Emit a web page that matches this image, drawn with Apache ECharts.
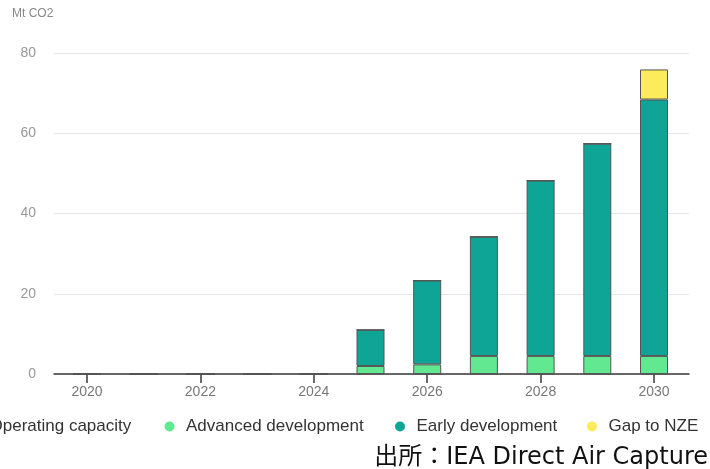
<!DOCTYPE html>
<html>
<head>
<meta charset="utf-8">
<script src="https://cdn.jsdelivr.net/npm/echarts@6/dist/echarts.min.js"></script>
<style>
	html, body { margin: 0; padding: 0; background: #fff; }
	#chart { width: 710px; height: 469px; }
</style>
</head>
<body>
<div id="chart"></div>
<script>
// 年份
const years = ['2020', '2021', '2022', '2023', '2024', '2025', '2026', '2027', '2028', '2029', '2030'];
const yTicks = [0, 20, 40, 60, 80];
// 各系列数据 (Mt CO2)
const operating = [0, 0, 0, 0, 0, 0, 0, 0, 0, 0, 0];
const advanced = [0, 0, 0, 0, 0, 2.0, 2.4, 4.5, 4.5, 4.5, 4.5];
const early = [0, 0, 0, 0, 0, 9.0, 20.9, 29.7, 43.7, 52.9, 63.9];
const gapNze = [0, 0, 0, 0, 0, 0, 0, 0, 0, 0, 7.5];

const seriesNames = ['Operating capacity', 'Advanced development', 'Early development', 'Gap to NZE'];
const seriesColors = ['#1c6e5c', '#62e890', '#0ea596', '#fcec5c'];
const legendLeft = [-32, 164.5, 395, 587]; // 每个图例单独定位

const chart = echarts.init(document.getElementById('chart'));

const option = {
	backgroundColor: '#fff',
	textStyle: { fontFamily: 'Liberation Sans, Arial, sans-serif' },
	animation: false,
	// grid0: 网格线和坐标轴线(较宽); grid1: 柱子(类目带宽)
	grid: [
		{ left: 54, right: 21, top: 53, bottom: 95 },
		{ left: 58.65, right: 27.65, top: 53, bottom: 95 }
	],
	legend: seriesNames.map(function(name, i) {
		return {
			data: [name],
			left: legendLeft[i],
			top: 418,
			padding: 0,
			icon: 'circle',
			itemWidth: 23,
			itemHeight: 10,
			itemStyle: { borderWidth: 0 },
			textStyle: { fontSize: 17, color: '#333' }
		};
	}),
	xAxis: [
		{
			gridIndex: 0,
			type: 'value',
			min: 0,
			max: 1,
			splitLine: { show: false },
			axisTick: { show: false },
			axisLabel: { show: false },
			axisLine: { show: true, lineStyle: { color: '#3a3a3a', width: 1.5 } }
		},
		{
			gridIndex: 1,
			type: 'category',
			data: years,
			axisLine: { show: false },
			axisTick: {
				show: true,
				alignWithLabel: true,
				interval: 1,
				length: 9,
				lineStyle: { color: '#3a3a3a', width: 1.5 }
			},
			axisLabel: { interval: 1, margin: 11, fontSize: 14, color: '#777' }
		}
	],
	yAxis: [
		{
			gridIndex: 0,
			type: 'value',
			min: yTicks[0],
			max: yTicks[yTicks.length - 1],
			interval: 20,
			axisLine: { show: false },
			axisTick: { show: false },
			splitLine: { lineStyle: { color: '#e6e6e6', width: 1 } },
			axisLabel: { margin: 18, fontSize: 14, color: '#9a9a9a' }
		},
		{
			gridIndex: 1,
			type: 'value',
			min: yTicks[0],
			max: yTicks[yTicks.length - 1],
			show: false
		}
	],
	graphic: [
		{
			type: 'text', left: 12, top: 8,
			style: { text: 'Mt CO2', fontSize: 12, fill: '#888', fontFamily: 'Liberation Sans, Arial, sans-serif' }
		},
		{
			type: 'text', right: 2, top: 446,
			style: { text: '出所：IEA Direct Air Capture', fontSize: 24, fill: '#111', fontFamily: 'DejaVu Sans, Noto Sans CJK JP' }
		}
	],
	series: [operating, advanced, early, gapNze].map(function(arr, i) {
		return {
			name: seriesNames[i],
			type: 'bar',
			xAxisIndex: 1,
			yAxisIndex: 1,
			stack: 'total',
			barWidth: 28,
			data: arr,
			itemStyle: { color: seriesColors[i], borderColor: '#555', borderWidth: 1 }
		};
	})
};

chart.setOption(option);
</script>
</body>
</html>
